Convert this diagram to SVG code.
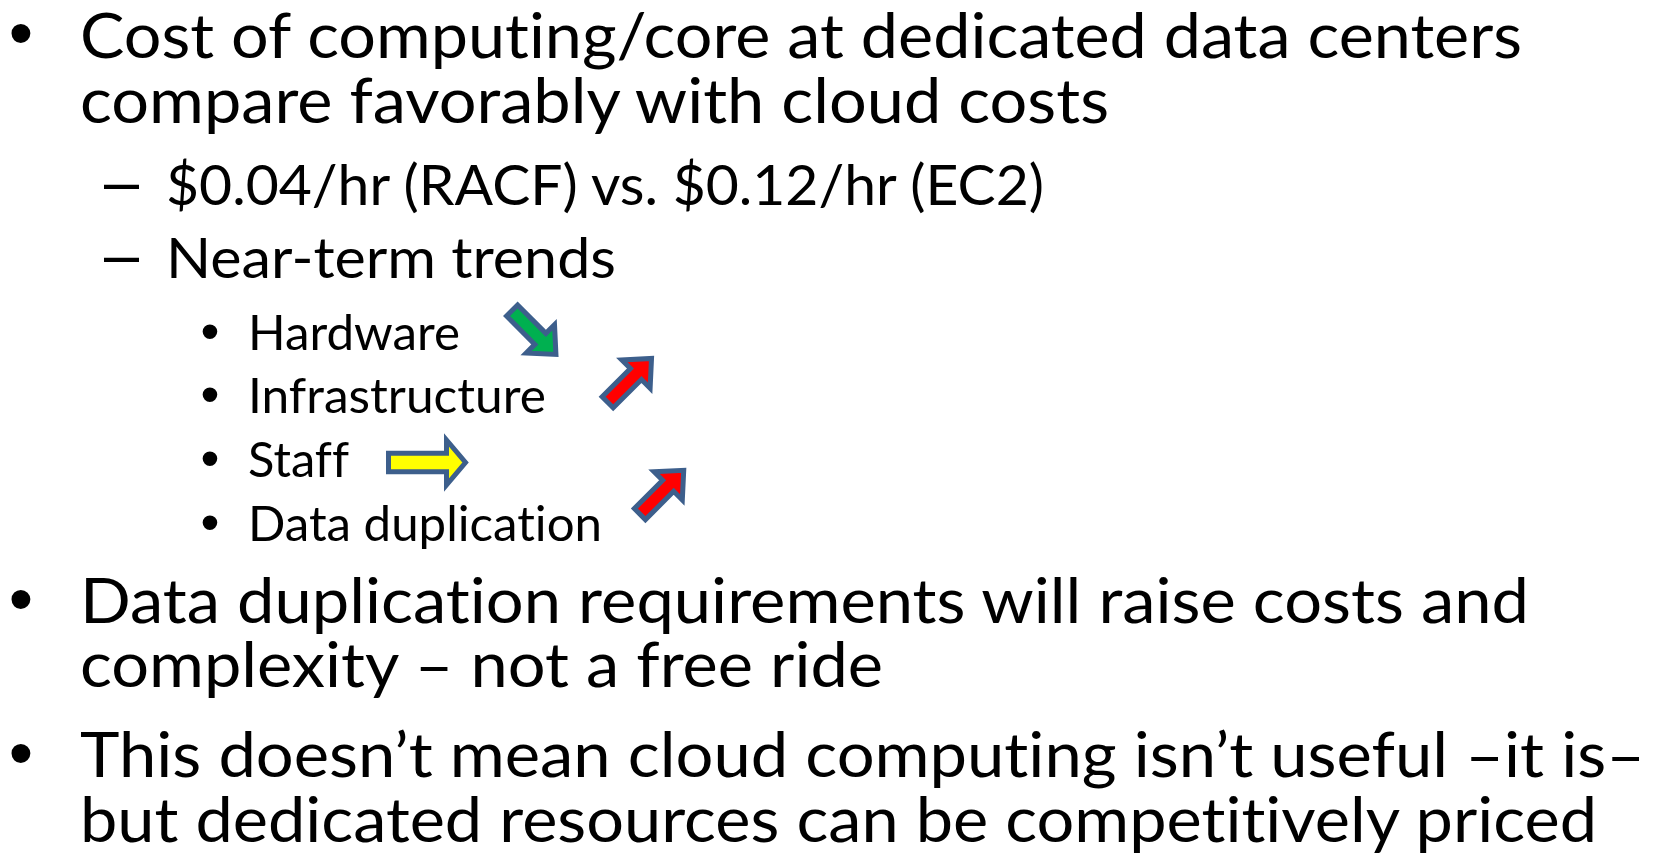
<svg xmlns="http://www.w3.org/2000/svg" width="1661" height="858" viewBox="0 0 1661 858">
  <style>
    text { font-variant-ligatures: none; font-feature-settings: "liga" 0, "clig" 0, "dlig" 0; }
    .l1 { font-family: Lato, "Liberation Sans", sans-serif; font-size: 62px; fill: #000; }
    .l2 { font-family: Lato, "Liberation Sans", sans-serif; font-size: 56px; fill: #000; }
    .l3 { font-family: Lato, "Liberation Sans", sans-serif; font-size: 47.5px; fill: #000; }
    .dash { font-family: "Liberation Sans", Arial, sans-serif; font-size: 63px; fill: #000; }
    .b1 { font-family: "Liberation Sans", Arial, sans-serif; font-size: 69.6px; fill: #000; text-anchor: middle; }
    .b3 { font-family: "Liberation Sans", Arial, sans-serif; font-size: 54px; fill: #000; text-anchor: middle; }
    .arrow { stroke: #3D5F8C; stroke-width: 5; stroke-linejoin: miter; stroke-miterlimit: 10; }
  </style>
  <defs>
    <!-- block arrow pointing right, centred on the origin -->
    <path id="arrowSmall" d="M-31,-7.8 H9 V-20 L31,0 L9,20 V7.8 H-31 Z"/>
    <path id="arrowLong" d="M-38.5,-9.3 H19.5 V-22.5 L38.5,0 L19.5,22.5 V9.3 H-38.5 Z"/>
  </defs>
  <rect width="1661" height="858" fill="#fff"/>

  <!-- first top-level bullet -->
  <g id="cost">
    <text class="b1" x="21" y="57">•</text>
    <text class="l1" x="80" y="58" textLength="1442" lengthAdjust="spacingAndGlyphs">Cost of computing/core at dedicated data centers</text>
    <text class="l1" x="80" y="122.5" textLength="1029" lengthAdjust="spacingAndGlyphs">compare favorably with cloud costs</text>
  </g>

  <!-- second-level items -->
  <g id="price">
    <text class="dash" x="104" y="203">–</text>
    <text class="l2" x="166" y="205" textLength="878" lengthAdjust="spacingAndGlyphs">$0.04/hr (RACF) vs. $0.12/hr (EC2)</text>
  </g>
  <g id="trends">
    <text class="dash" x="104" y="276">–</text>
    <text class="l2" x="166" y="278" textLength="450" lengthAdjust="spacingAndGlyphs">Near-term trends</text>
  </g>

  <!-- third-level items -->
  <g id="hardware">
    <text class="b3" x="210" y="349.5">•</text>
    <text class="l3" x="248" y="349.5" textLength="212" lengthAdjust="spacingAndGlyphs">Hardware</text>
  </g>
  <g id="infrastructure">
    <text class="b3" x="210" y="413">•</text>
    <text class="l3" x="248" y="413" textLength="298" lengthAdjust="spacingAndGlyphs">Infrastructure</text>
  </g>
  <g id="staff">
    <text class="b3" x="210" y="477">•</text>
    <text class="l3" x="248" y="477" textLength="101" lengthAdjust="spacingAndGlyphs">Staff</text>
  </g>
  <g id="duplication">
    <text class="b3" x="210" y="540.5">•</text>
    <text class="l3" x="248" y="540.5" textLength="354" lengthAdjust="spacingAndGlyphs">Data duplication</text>
  </g>

  <!-- trend arrows -->
  <g id="trend-arrows">
    <use href="#arrowSmall" class="arrow" fill="#00B050" transform="translate(534,332.5) rotate(45)"/>
    <use href="#arrowSmall" class="arrow" fill="#FF0000" transform="translate(629.6,380.4) rotate(-45)"/>
    <use href="#arrowLong" class="arrow" fill="#FFFF00" transform="translate(427,462.5)"/>
    <use href="#arrowSmall" class="arrow" fill="#FF0000" transform="translate(661.8,492.2) rotate(-45)"/>
  </g>

  <!-- remaining top-level bullets -->
  <g id="requirements">
    <text class="b1" x="21" y="623">•</text>
    <text class="l1" x="80" y="622.7" textLength="1449" lengthAdjust="spacingAndGlyphs">Data duplication requirements will raise costs and</text>
    <text class="l1" x="80" y="686.7" textLength="803" lengthAdjust="spacingAndGlyphs">complexity – not a free ride</text>
  </g>
  <g id="conclusion">
    <text class="b1" x="21" y="777">•</text>
    <text class="l1" x="80" y="777.3" textLength="1565" lengthAdjust="spacingAndGlyphs">This doesn’t mean cloud computing isn’t useful –it is–</text>
    <text class="l1" x="80" y="841.7" textLength="1517" lengthAdjust="spacingAndGlyphs">but dedicated resources can be competitively priced</text>
  </g>
</svg>
